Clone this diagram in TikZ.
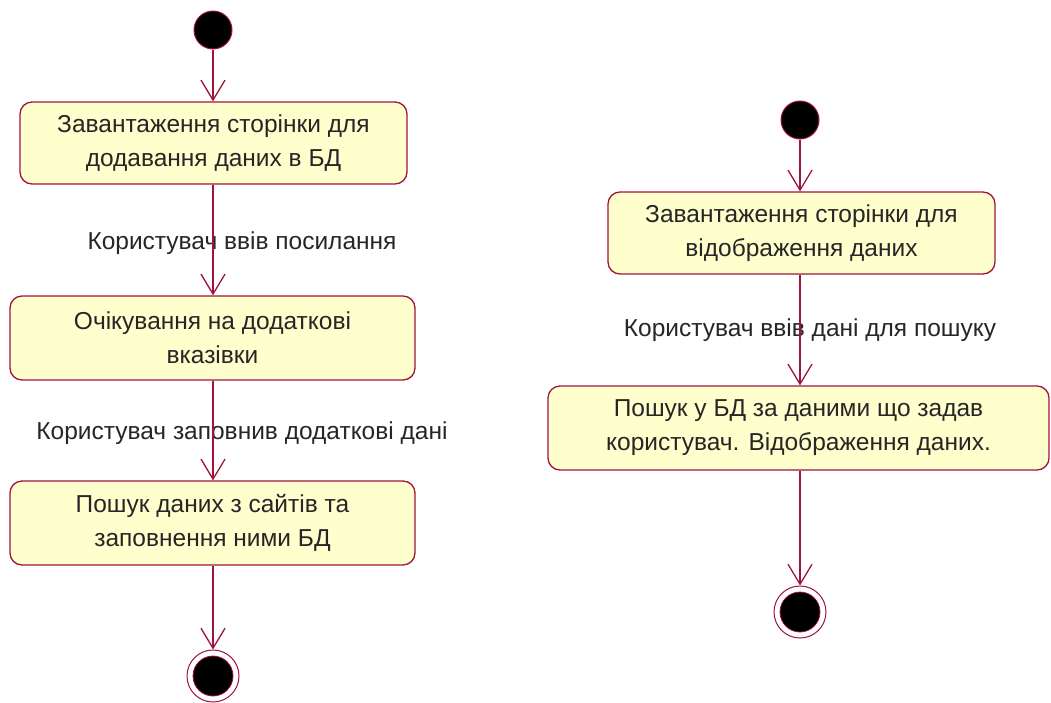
\documentclass[tikz,border=0pt]{standalone}
\usepackage{fontspec}
\setmainfont{Liberation Sans}
\usetikzlibrary{arrows.meta}
\definecolor{umlred}{RGB}{160,20,60}
\definecolor{umlfill}{RGB}{255,255,206}
\tikzset{
  actbox/.style={draw=umlred, line width=1.3pt, fill=umlfill, rounded corners=12pt, inner sep=0pt, align=center, font=\fontsize{24.5}{34}\selectfont, text=black!85},
  initnode/.style={circle, draw=umlred, line width=1pt, fill=black, minimum size=38pt, inner sep=0pt},
  finalouter/.style={circle, draw=umlred, line width=1pt, minimum size=52pt, inner sep=0pt},
  finalinner/.style={circle, draw=umlred, line width=0.8pt, fill=black, minimum size=40pt, inner sep=0pt},
  flow/.style={draw=umlred, line width=1.3pt, -{Straight Barb[length=20pt,width=24pt,line width=1.3pt]}},
  guard/.style={font=\fontsize{24.5}{28}\selectfont, text=black!85, inner sep=0pt}
}
\begin{document}
\begin{tikzpicture}[x=1pt,y=-1pt]
\useasboundingbox (0,0) rectangle (1051,702);
% left diagram
\node[initnode] (i1) at (213,30) {};
\node[actbox, minimum width=387pt, minimum height=82pt] (b1) at (213.5,143) {Завантаження сторінки для\\додавання даних в БД};
\node[actbox, minimum width=405pt, minimum height=84pt] (b2) at (212.5,338) {Очікування на додаткові\\вказівки};
\node[actbox, minimum width=405pt, minimum height=84pt] (b3) at (212.5,523) {Пошук даних з сайтів та\\заповнення ними БД};
\node[finalouter] (f1) at (213,676) {};
\node[finalinner] (f1i) at (213,676) {};
\node[guard] (g1) at (242,243) {Користувач ввів посилання};
\node[guard] (g2) at (242,433) {Користувач заповнив додаткові дані};
\draw[flow] (i1) -- (i1 |- b1.north);
\draw[flow] (i1 |- b1.south) -- (i1 |- b2.north);
\draw[flow] (i1 |- b2.south) -- (i1 |- b3.north);
\draw[flow] (i1 |- b3.south) -- (f1);
% right diagram
\node[initnode] (i2) at (800,120) {};
\node[actbox, minimum width=387pt, minimum height=82pt] (b4) at (801.5,233) {Завантаження сторінки для\\відображення даних};
\node[actbox, minimum width=501pt, minimum height=84pt] (b5) at (798.5,428) {Пошук у БД за даними що задав\\користувач. Відображення даних.};
\node[finalouter] (f2) at (800,612) {};
\node[finalinner] (f2i) at (800,612) {};
\node[guard] (g3) at (810,330) {Користувач ввів дані для пошуку};
\draw[flow] (i2) -- (i2 |- b4.north);
\draw[flow] (i2 |- b4.south) -- (i2 |- b5.north);
\draw[flow] (i2 |- b5.south) -- (f2);
\end{tikzpicture}
\end{document}
